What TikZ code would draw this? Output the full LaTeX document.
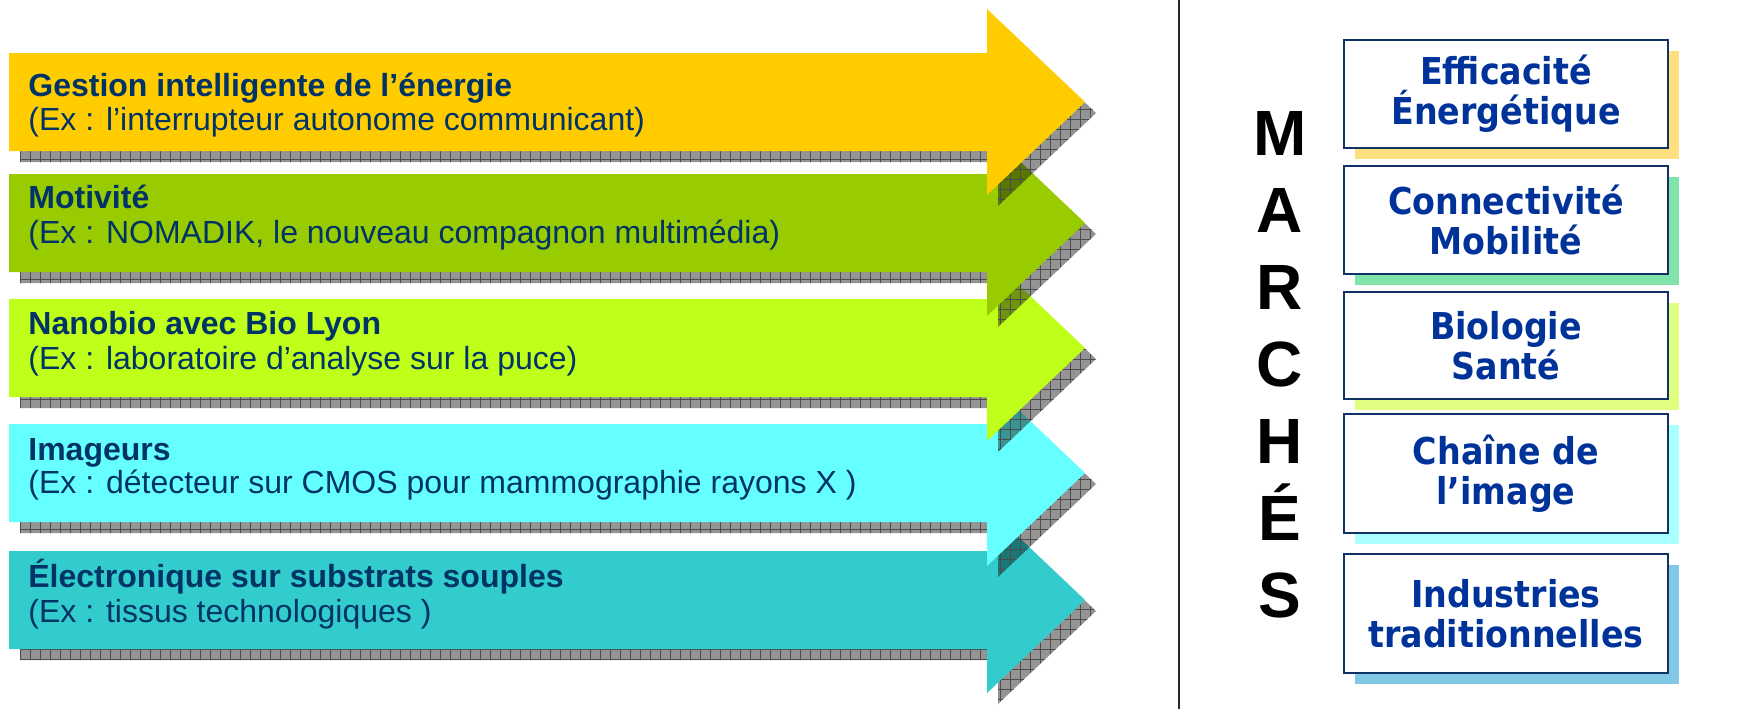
\documentclass[tikz,border=0pt]{standalone}
\usepackage{fontspec}
\setmainfont{Liberation Sans}
\newfontfamily\marketfont{DejaVu Sans Condensed}
\usepackage{xcolor}
\usepackage{tikz}
\usetikzlibrary{positioning, shadows, patterns.meta}
\definecolor{axeyellow}{RGB}{255,204,0}
\definecolor{axegreen}{RGB}{153,204,0}
\definecolor{axelime}{RGB}{192,255,26}
\definecolor{axecyan}{RGB}{102,255,255}
\definecolor{axeteal}{RGB}{51,204,204}
\definecolor{textnavy}{RGB}{0,51,102}
\definecolor{boxblue}{RGB}{0,51,153}
\definecolor{boxline}{RGB}{16,50,100}
\definecolor{shadeyellow}{RGB}{255,224,128}
\definecolor{shadegreen}{RGB}{128,228,170}
\definecolor{shadelime}{RGB}{224,255,128}
\definecolor{shadecyan}{RGB}{170,255,255}
\definecolor{shadeblue}{RGB}{128,200,230}

\begin{document}
\begin{tikzpicture}[
    x=0.5pt, y=-0.5pt,
    dropshade/.style={
        fill=black,
        fill opacity=0.42,
        postaction={pattern={Hatch[distance=5pt, line width=0.3pt]}, pattern color=black!70}
    },
    title/.style={
        anchor=base west,
        inner sep=0pt,
        text=textnavy,
        font=\fontsize{16}{18}\selectfont\bfseries
    },
    example/.style={
        anchor=base west,
        inner sep=0pt,
        text=textnavy,
        font=\fontsize{16}{18}\selectfont
    },
    letter/.style={
        anchor=base,
        inner sep=0pt,
        font=\fontsize{32}{36}\selectfont\bfseries
    },
    market/.style={
        rectangle,
        draw=boxline,
        line width=1pt,
        fill=white,
        align=center,
        minimum width=162pt,
        minimum height=54pt,
        inner sep=0pt,
        text=boxblue,
        font=\marketfont\bfseries\fontsize{18.5}{20}\selectfont,
        drop shadow={shadow xshift=5.5pt, shadow yshift=-5.5pt, fill=#1, opacity=1}
    },
    divider/.style={line width=1pt, color=black!85}
]
\useasboundingbox (0,0) rectangle (1746,709);

% arrows, lowest first
\fill[dropshade, shift={(11,11)}] (9,551) -- (987,551) -- (987,507) -- (1085,600) -- (987,693) -- (987,649) -- (9,649) -- cycle;
\fill[axeteal] (9,551) -- (987,551) -- (987,507) -- (1085,600) -- (987,693) -- (987,649) -- (9,649) -- cycle;

\fill[dropshade, shift={(11,11)}] (9,424) -- (987,424) -- (987,380) -- (1085,473) -- (987,566) -- (987,522) -- (9,522) -- cycle;
\fill[axecyan] (9,424) -- (987,424) -- (987,380) -- (1085,473) -- (987,566) -- (987,522) -- (9,522) -- cycle;

\fill[dropshade, shift={(11,11)}] (9,299) -- (987,299) -- (987,255) -- (1085,348) -- (987,441) -- (987,397) -- (9,397) -- cycle;
\fill[axelime] (9,299) -- (987,299) -- (987,255) -- (1085,348) -- (987,441) -- (987,397) -- (9,397) -- cycle;

\fill[dropshade, shift={(11,11)}] (9,174) -- (987,174) -- (987,130) -- (1085,223) -- (987,316) -- (987,272) -- (9,272) -- cycle;
\fill[axegreen] (9,174) -- (987,174) -- (987,130) -- (1085,223) -- (987,316) -- (987,272) -- (9,272) -- cycle;

\fill[dropshade, shift={(11,11)}] (9,53) -- (987,53) -- (987,9) -- (1085,102) -- (987,195) -- (987,151) -- (9,151) -- cycle;
\fill[axeyellow] (9,53) -- (987,53) -- (987,9) -- (1085,102) -- (987,195) -- (987,151) -- (9,151) -- cycle;

% arrow texts
\node[title] (t1) at (28,96) {Gestion intelligente de l’énergie};
\node[example] (e1) at (28,130.5) {(Ex : l’interrupteur autonome communicant)};
\node[title] (t2) at (28,208) {Motivité};
\node[example] (e2) at (28,243) {(Ex : NOMADIK, le nouveau compagnon multimédia)};
\node[title] (t3) at (28,334.5) {Nanobio avec Bio Lyon};
\node[example] (e3) at (28,369.5) {(Ex : laboratoire d’analyse sur la puce)};
\node[title] (t4) at (28,460) {Imageurs};
\node[example] (e4) at (28,493.5) {(Ex : détecteur sur CMOS pour mammographie rayons X )};
\node[title] (t5) at (28,587.5) {Électronique sur substrats souples};
\node[example] (e5) at (28,622) {(Ex : tissus technologiques )};

% divider
\coordinate (divtop) at (1179,0);
\coordinate (divbot) at (1179,709);
\draw[divider] (divtop) -- (divbot);

% MARCHES
\node[letter] (l1) at (1280,155) {M};
\node[letter] (l2) at (1280,232) {A};
\node[letter] (l3) at (1280,309) {R};
\node[letter] (l4) at (1280,386) {C};
\node[letter] (l5) at (1280,463) {H};
\node[letter] (l6) at (1280,540) {É};
\node[letter] (l7) at (1280,617) {S};

% markets
\node[market=shadeyellow] (m1) at (1506,94) {Efficacité\\Énergétique};
\node[market=shadegreen] (m2) at (1506,220) {Connectivité\\Mobilité};
\node[market=shadelime, minimum height=53.5pt] (m3) at (1506,345.5) {Biologie\\Santé};
\node[market=shadecyan, minimum height=59.5pt] (m4) at (1506,473.5) {Chaîne de\\l’image};
\node[market=shadeblue, minimum height=59.5pt] (m5) at (1506,613.5) {Industries\\traditionnelles};

\end{tikzpicture}
\end{document}
